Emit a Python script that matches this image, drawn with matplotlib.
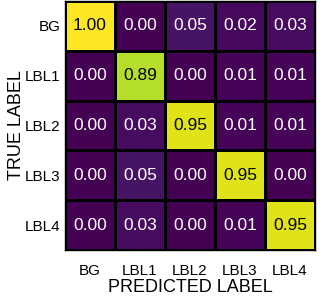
import numpy as np
import matplotlib.pyplot as plt

plt.rcParams['font.family'] = ['Liberation Sans', 'DejaVu Sans']

labels = ['BG', 'LBL1', 'LBL2', 'LBL3', 'LBL4']
cm = np.array([
    [1.00, 0.00, 0.05, 0.02, 0.03],
    [0.00, 0.89, 0.00, 0.01, 0.01],
    [0.00, 0.03, 0.95, 0.01, 0.01],
    [0.00, 0.05, 0.00, 0.95, 0.00],
    [0.00, 0.03, 0.00, 0.01, 0.95],
])

fig = plt.figure(figsize=(3.2, 3.01), dpi=100)
ax = fig.add_axes([65 / 320, 51 / 301, 250 / 320, 249 / 301])

ax.pcolormesh(cm, cmap='viridis', vmin=0, vmax=1, edgecolors='black', linewidth=1)
ax.set_xlim(0, 5)
ax.set_ylim(5, 0)

for i in range(cm.shape[0]):
    for j in range(cm.shape[1]):
        v = cm[i, j]
        ax.text(j + 0.5, i + 0.5, f'{v:.2f}', ha='center', va='center',
                fontsize=12.5, color='black' if v > 0.5 else 'white')

ax.set_xticks(np.arange(5) + 0.5)
ax.set_yticks(np.arange(5) + 0.5)
ax.set_xticklabels(labels, fontsize=11)
ax.set_yticklabels(labels, fontsize=11)
ax.tick_params(length=0)
ax.tick_params(axis='x', pad=10)
ax.tick_params(axis='y', pad=3)
ax.set_xlabel('PREDICTED LABEL', fontsize=13, labelpad=1)
ax.set_ylabel('TRUE LABEL', fontsize=13, labelpad=0)
for s in ax.spines.values():
    s.set_linewidth(1)

fig.savefig('out.png', dpi=100)
